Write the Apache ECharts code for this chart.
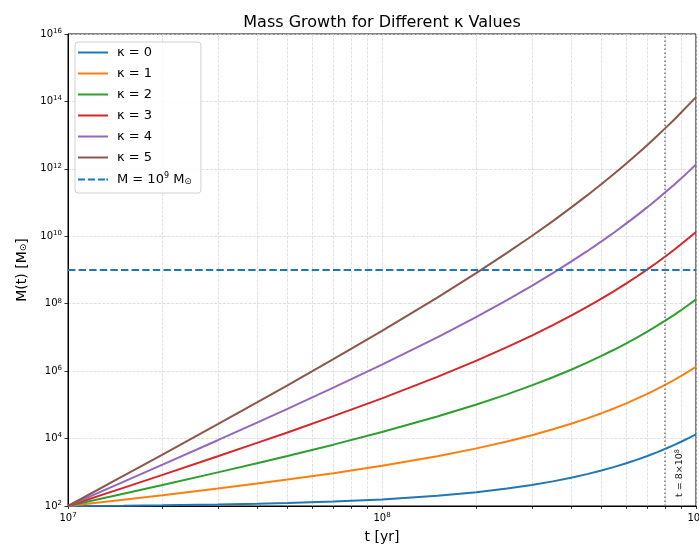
<!DOCTYPE html>
<html>
<head>
<meta charset="utf-8">
<title>Mass Growth for Different κ Values</title>
<script src="https://cdn.jsdelivr.net/npm/echarts@6/dist/echarts.min.js"></script>
<style>
  html, body { margin: 0; padding: 0; background: #fff; }
  #massChart { width: 699px; height: 550px; }
</style>
</head>
<body>
<div id="massChart"></div>
<script>
// sample times [yr]
const tYears = [1e7, 1.5e7, 2e7, 3e7, 4e7, 5e7, 7e7, 1e8, 1.5e8, 2e8, 2.5e8, 3e8, 3.5e8, 4e8, 4.5e8, 5e8, 5.5e8, 6e8, 6.5e8, 7e8, 7.5e8, 8e8, 8.5e8, 9e8, 9.5e8, 1e9];

// M(t) [M_sun]
const massK0 = [100, 102.5, 105, 110, 116, 122, 135, 156, 200, 256, 328, 420, 538, 690, 883, 1130, 1450, 1860, 2380, 3040, 3900, 4990, 6400, 8190, 10500, 13400];
const massK1 = [100, 154, 210, 331, 464, 610, 942, 1560, 3000, 5120, 8200, 12600, 18800, 27600, 39700, 56600, 79600, 1.11e5, 1.55e5, 2.13e5, 2.92e5, 4.0e5, 5.43e5, 7.37e5, 9.98e5, 1.34e6];
const massK2 = [100, 231, 420, 994, 1860, 3050, 6600, 15600, 45000, 1.02e5, 2.05e5, 3.78e5, 6.59e5, 1.1e6, 1.79e6, 2.83e6, 4.38e6, 6.68e6, 1.0e7, 1.49e7, 2.19e7, 3.2e7, 4.61e7, 6.64e7, 9.49e7, 1.34e8];
const massK3 = [100, 346, 840, 2980, 7430, 15200, 46200, 1.56e5, 6.75e5, 2.05e6, 5.13e6, 1.13e7, 2.31e7, 4.41e7, 8.04e7, 1.41e8, 2.4e8, 4.01e8, 6.53e8, 1.04e9, 1.64e9, 2.56e9, 3.92e9, 5.97e9, 9.02e9, 1.34e10];
const massK4 = [100, 519, 1680, 8940, 29700, 76200, 3.23e5, 1.56e6, 1.01e7, 4.1e7, 1.28e8, 3.4e8, 8.07e8, 1.77e9, 3.61e9, 7.07e9, 1.32e10, 2.41e10, 4.25e10, 7.31e10, 1.23e11, 2.05e11, 3.33e11, 5.37e11, 8.57e11, 1.34e12];
const massK5 = [100, 778, 3360, 26800, 1.19e5, 3.81e5, 2.26e6, 1.56e7, 1.52e8, 8.19e8, 3.21e9, 1.02e10, 2.82e10, 7.06e10, 1.63e11, 3.54e11, 7.26e11, 1.44e12, 2.76e12, 5.12e12, 9.25e12, 1.64e13, 2.82e13, 4.84e13, 8.15e13, 1.34e14];

const kappaNames = ["κ = 0", "κ = 1", "κ = 2", "κ = 3", "κ = 4", "κ = 5"];
const thresholdName = "M = 1e9 Msun";
const thresholdMass = 1e9;
const markerTime = 8e8;

// tick positions
const xLabelTicks = [1e7, 1e8, 1e9];
const xGridTicks = [1e7, 2e7, 3e7, 4e7, 5e7, 6e7, 7e7, 8e7, 9e7, 1e8, 2e8, 3e8, 4e8, 5e8, 6e8, 7e8, 8e8, 9e8, 1e9];
const yTicks = [1e2, 1e4, 1e6, 1e8, 1e10, 1e12, 1e14, 1e16];

// matplotlib tab10
const colors = ["#1f77b4", "#ff7f0e", "#2ca02c", "#d62728", "#9467bd", "#8c564b"];
const font = "DejaVu Sans";

const massArr = [massK0, massK1, massK2, massK3, massK4, massK5];
const lg = Math.log10;

// legend icons: solid bar and dashed bar
const solidIcon = "path://M0,0h30v2h-30z";
const dashedIcon = "path://M0,0h7.4v2h-7.4zM10.6,0h7.4v2h-7.4zM21.2,0h7.4v2h-7.4zM31.8,0h-1.8v2h1.8z";

const supRich = {
  sup: { fontSize: 7, fontFamily: font, color: "#000", padding: [0, 0, 6, 0] },
};

const curveSeries = massArr.map((arr, i) => ({
  name: kappaNames[i],
  type: "line",
  symbol: "none",
  lineStyle: { color: colors[i], width: 2 },
  itemStyle: { color: colors[i] },
  data: tYears.map((t, j) => [lg(t), lg(arr[j])]),
}));

const thresholdSeries = {
  name: thresholdName,
  type: "line",
  symbol: "none",
  lineStyle: { color: colors[0], width: 2, type: [7.4, 3.2] },
  itemStyle: { color: colors[0] },
  data: [
    [lg(tYears[0]), lg(thresholdMass)],
    [lg(tYears[tYears.length - 1]), lg(thresholdMass)],
  ],
  markLine: {
    silent: true,
    symbol: "none",
    lineStyle: { color: "#777", width: 1.5, type: [1.5, 2.5] },
    label: {
      show: true,
      position: "insideStartBottom",
      formatter: "t = 8×10{sup|8}",
      color: "#222",
      fontFamily: font,
      fontSize: 9.5,
      distance: 9,
      rich: { sup: { fontSize: 6.5, fontFamily: font, color: "#222", padding: [0, 0, 5, 0] } },
    },
    data: [{ xAxis: lg(markerTime) }],
  },
};

const gridLine = { show: true, lineStyle: { color: "#d8d8d8", width: 0.8, type: [3, 1.3] } };

const legendData = kappaNames
  .map((name) => ({ name, icon: solidIcon }))
  .concat([{ name: thresholdName, icon: dashedIcon }]);

const myChart = echarts.init(document.getElementById("massChart"));
myChart.setOption({
  animation: false,
  backgroundColor: "#fff",
  title: {
    text: "Mass Growth for Different κ Values",
    left: 382,
    textAlign: "center",
    top: 15,
    padding: 0,
    textStyle: { fontFamily: font, fontSize: 16, fontWeight: "normal", color: "#000" },
  },
  legend: {
    orient: "vertical",
    left: 75,
    top: 42,
    padding: [4, 9, 7, 3],
    itemWidth: 30,
    itemHeight: 14,
    itemGap: 8,
    backgroundColor: "rgba(255,255,255,0.8)",
    borderColor: "#d0d0d0",
    borderWidth: 1,
    borderRadius: 3,
    data: legendData,
    formatter: (name) => (name === thresholdName ? "M = 10{sup|9} M{sub|⊙}" : name),
    textStyle: {
      fontFamily: font,
      fontSize: 13,
      color: "#000",
      padding: [0, 0, 0, 4],
      rich: {
        sup: { fontSize: 8, fontFamily: font, color: "#000", padding: [0, 0, 7, 0] },
        sub: { fontSize: 9, fontFamily: font, color: "#000", padding: [4, 0, 0, 0] },
      },
    },
  },
  grid: {
    left: 68,
    right: 3,
    top: 34,
    bottom: 44,
    containLabel: false,
    outerBoundsMode: "none",
    show: true,
    borderColor: "#000",
    borderWidth: 1,
  },
  xAxis: {
    type: "value",
    min: lg(xLabelTicks[0]),
    max: lg(xLabelTicks[xLabelTicks.length - 1]),
    name: "t [yr]",
    nameLocation: "middle",
    nameGap: 24,
    nameTextStyle: { fontFamily: font, fontSize: 14, color: "#000" },
    axisLine: { show: true, onZero: false, lineStyle: { color: "#000", width: 1 } },
    axisTick: { show: true, inside: false, length: 3, lineStyle: { color: "#000", width: 0.8 }, customValues: xGridTicks.map(lg) },
    axisLabel: {
      customValues: xLabelTicks.map(lg),
      formatter: (v) => "10{sup|" + Math.round(v) + "}",
      fontFamily: font,
      fontSize: 10,
      color: "#000",
      margin: 6,
      rich: supRich,
    },
    splitLine: gridLine,
  },
  yAxis: {
    type: "value",
    min: lg(yTicks[0]),
    max: lg(yTicks[yTicks.length - 1]),
    interval: 2,
    name: "M(t) [M{sub|⊙}]",
    nameLocation: "middle",
    nameRotate: 90,
    nameGap: 39,
    nameTextStyle: {
      fontFamily: font,
      fontSize: 14,
      color: "#000",
      rich: { sub: { fontSize: 9, fontFamily: font, color: "#000", padding: [4, 0, 0, 0] } },
    },
    axisLine: { show: true, onZero: false, lineStyle: { color: "#000", width: 1 } },
    axisTick: { show: true, inside: false, length: 3.5, lineStyle: { color: "#000", width: 0.8 } },
    axisLabel: {
      formatter: (v) => "10{sup|" + Math.round(v) + "}",
      fontFamily: font,
      fontSize: 10,
      color: "#000",
      margin: 6,
      rich: supRich,
    },
    splitLine: gridLine,
  },
  series: curveSeries.concat([thresholdSeries]),
});
</script>
</body>
</html>
